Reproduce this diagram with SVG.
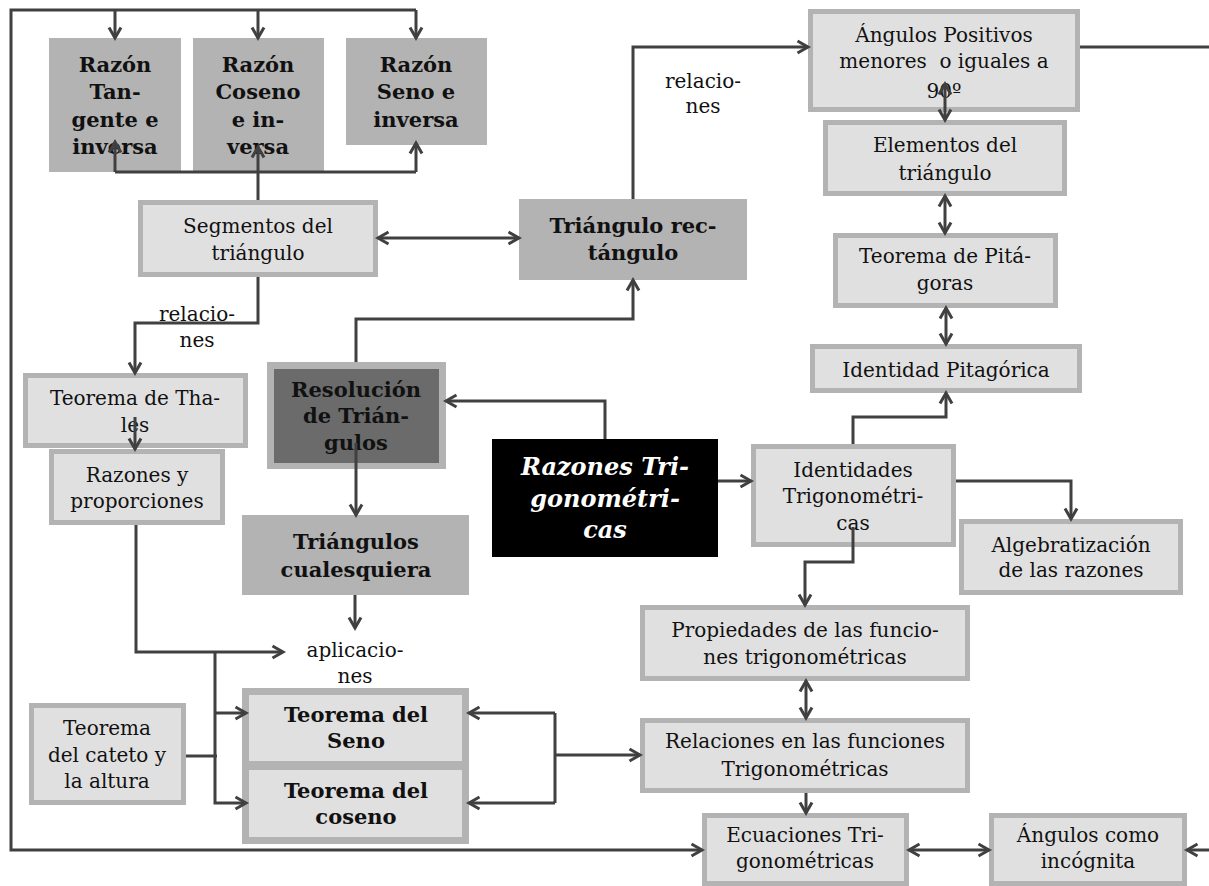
<svg xmlns="http://www.w3.org/2000/svg" width="1209" height="886" viewBox="0 0 1209 886">
<defs>
<marker id="ah" viewBox="0 0 14 16" refX="12.5" refY="8" markerWidth="14" markerHeight="16" markerUnits="userSpaceOnUse" orient="auto-start-reverse" overflow="visible">
<path d="M2,2 L12.5,8 L2,14" fill="none" stroke="#404040" stroke-width="3"/>
</marker>
</defs>
<style>
.ln{fill:none;stroke:#404040;stroke-width:3}
.a{marker-end:url(#ah)}
.bi{marker-start:url(#ah);marker-end:url(#ah)}
.box{fill:#e0e0e0;stroke:#b3b3b3;stroke-width:5}
.box7{fill:#e0e0e0;stroke:#b3b3b3;stroke-width:7}
.dk{fill:#b3b3b3}
text{font-family:"DejaVu Serif","Liberation Serif",serif;font-size:20px;fill:#111;text-anchor:middle}
.b{font-weight:bold;font-size:21px}
.w{fill:#fff;font-style:italic;font-weight:bold;font-size:24px}
</style>
<rect width="1209" height="886" fill="#fff"/>

<g id="razon-tangente">
<rect class="dk" x="49" y="38" width="132" height="134"/>
<text class="b" x="115" y="72">Razón</text>
<text class="b" x="115" y="99">Tan-</text>
<text class="b" x="115" y="127">gente e</text>
<text class="b" x="115" y="154">inversa</text>
</g>
<g id="razon-coseno">
<rect class="dk" x="193" y="38" width="131" height="134"/>
<text class="b" x="258" y="72">Razón</text>
<text class="b" x="258" y="99">Coseno</text>
<text class="b" x="258" y="127">e in-</text>
<text class="b" x="258" y="154">versa</text>
</g>
<g id="razon-seno">
<rect class="dk" x="346" y="38" width="141" height="107"/>
<text class="b" x="416" y="72">Razón</text>
<text class="b" x="416" y="99">Seno e</text>
<text class="b" x="416" y="127">inversa</text>
</g>
<g id="segmentos">
<rect class="box" x="140.5" y="202.5" width="235" height="72"/>
<text x="258" y="233">Segmentos del</text>
<text x="258" y="260">triángulo</text>
</g>
<g id="triangulo-rectangulo">
<rect class="dk" x="519" y="199" width="228" height="81"/>
<text class="b" x="633" y="233">Triángulo rec-</text>
<text class="b" x="633" y="260">tángulo</text>
</g>
<g id="label-relaciones-1">
<text x="703" y="88">relacio-</text>
<text x="703" y="113">nes</text>
</g>
<g id="angulos-positivos">
<rect class="box" x="810.5" y="11.5" width="267" height="98"/>
<text x="944" y="42">Ángulos Positivos</text>
<text x="944" y="68" xml:space="preserve">menores  o iguales a</text>
<text x="944" y="98">90º</text>
</g>
<g id="elementos">
<rect class="box" x="825.5" y="122.5" width="239" height="71"/>
<text x="945" y="152">Elementos del</text>
<text x="945" y="180">triángulo</text>
</g>
<g id="pitagoras">
<rect class="box" x="835.5" y="235.5" width="220" height="70"/>
<text x="945" y="263">Teorema de Pitá-</text>
<text x="945" y="290">goras</text>
</g>
<g id="identidad-pitagorica">
<rect class="box" x="812.5" y="346.5" width="267" height="44"/>
<text x="946" y="377">Identidad Pitagórica</text>
</g>
<g id="identidades">
<rect class="box" x="753.5" y="446.5" width="200" height="98"/>
<text x="853" y="477">Identidades</text>
<text x="853" y="503">Trigonométri-</text>
<text x="853" y="530">cas</text>
</g>
<g id="algebratizacion">
<rect class="box" x="961.5" y="521.5" width="219" height="71"/>
<text x="1071" y="552">Algebratización</text>
<text x="1071" y="577">de las razones</text>
</g>
<g id="razones-trigonometricas">
<rect x="492" y="439" width="226" height="118" fill="#000"/>
<text class="w" x="605" y="475">Razones Tri-</text>
<text class="w" x="605" y="507">gonométri-</text>
<text class="w" x="605" y="538">cas</text>
</g>
<g id="resolucion">
<rect x="267" y="362" width="179" height="107" fill="#b3b3b3"/>
<rect x="274" y="369" width="165" height="94" fill="#6b6b6b"/>
<text class="b" x="356" y="397">Resolución</text>
<text class="b" x="356" y="423">de Trián-</text>
<text class="b" x="356" y="450">gulos</text>
</g>
<g id="thales">
<rect class="box" x="25.5" y="375.5" width="220" height="70"/>
<text x="135" y="405">Teorema de Tha-</text>
<text x="135" y="432">les</text>
</g>
<g id="proporciones">
<rect class="box" x="51.5" y="451.5" width="171" height="71"/>
<text x="137" y="482">Razones y</text>
<text x="137" y="508">proporciones</text>
</g>
<g id="triangulos-cualesquiera">
<rect class="dk" x="242" y="515" width="227" height="80"/>
<text class="b" x="356" y="549">Triángulos</text>
<text class="b" x="356" y="577">cualesquiera</text>
</g>
<g id="label-relaciones-2">
<text x="197" y="321">relacio-</text>
<text x="197" y="347">nes</text>
</g>
<g id="label-aplicaciones">
<text x="355" y="657">aplicacio-</text>
<text x="355" y="683">nes</text>
</g>
<g id="cateto">
<rect class="box" x="31.5" y="705.5" width="152" height="97"/>
<text x="107" y="735">Teorema</text>
<text x="107" y="762">del cateto y</text>
<text x="107" y="788">la altura</text>
</g>
<g id="teorema-seno">
<rect class="box7" x="245.5" y="691.5" width="220" height="73"/>
<text class="b" x="356" y="722">Teorema del</text>
<text class="b" x="356" y="748">Seno</text>
</g>
<g id="teorema-coseno">
<rect class="box7" x="245.5" y="766.5" width="220" height="74"/>
<text class="b" x="356" y="798">Teorema del</text>
<text class="b" x="356" y="824">coseno</text>
</g>
<g id="propiedades">
<rect class="box" x="642.5" y="607.5" width="325" height="71"/>
<text x="805" y="637">Propiedades de las funcio-</text>
<text x="805" y="664">nes trigonométricas</text>
</g>
<g id="relaciones-funciones">
<rect class="box" x="642.5" y="720.5" width="325" height="70"/>
<text x="805" y="748">Relaciones en las funciones</text>
<text x="805" y="776">Trigonométricas</text>
</g>
<g id="ecuaciones">
<rect class="box" x="704.5" y="815.5" width="202" height="68"/>
<text x="805" y="842">Ecuaciones Tri-</text>
<text x="805" y="868">gonométricas</text>
</g>
<g id="angulos-incognita">
<rect class="box" x="991.5" y="815.5" width="193" height="68"/>
<text x="1088" y="842">Ángulos como</text>
<text x="1088" y="868">incógnita</text>
</g>

<g id="connectors">
<path class="ln a" d="M416,10 L11,10 L11,850 L702,850"/>
<path class="ln a" d="M115,10 L115,38"/>
<path class="ln a" d="M258,10 L258,38"/>
<path class="ln a" d="M416,10 L416,38"/>
<path class="ln a" d="M258,200 L258,147"/>
<path class="ln" d="M115,172 L416,172"/>
<path class="ln a" d="M115,172 L115,142"/>
<path class="ln a" d="M416,172 L416,143"/>
<path class="ln bi" d="M378,238 L519,238"/>
<path class="ln a" d="M633,199 L633,47 L808,47"/>
<path class="ln" d="M1080,47 L1209,47"/>
<path class="ln bi" d="M945,84 L945,120"/>
<path class="ln bi" d="M945,196 L945,233"/>
<path class="ln bi" d="M946,308 L946,344"/>
<path class="ln a" d="M853,444 L853,417 L946,417 L946,393"/>
<path class="ln a" d="M718,481 L751,481"/>
<path class="ln a" d="M956,481 L1071,481 L1071,519"/>
<path class="ln a" d="M853,527 L853,562 L805,562 L805,605"/>
<path class="ln bi" d="M806,681 L806,718"/>
<path class="ln a" d="M806,793 L806,813"/>
<path class="ln bi" d="M909,850 L989,850"/>
<path class="ln a" d="M1209,850 L1187,850"/>
<path class="ln a" d="M605,439 L605,401 L446,401"/>
<path class="ln a" d="M356,362 L356,319 L633,319 L633,280"/>
<path class="ln a" d="M356,443 L356,515"/>
<path class="ln a" d="M258,277 L258,323 L135,323 L135,373"/>
<path class="ln a" d="M135,417 L135,449"/>
<path class="ln a" d="M136,525 L136,652 L283,652"/>
<path class="ln a" d="M355,595 L355,628"/>
<path class="ln a" d="M215,652 L215,803 L246,803"/>
<path class="ln a" d="M215,713 L246,713"/>
<path class="ln" d="M186,756 L217,756"/>
<path class="ln" d="M555,713 L555,803"/>
<path class="ln a" d="M555,713 L469,713"/>
<path class="ln a" d="M555,803 L469,803"/>
<path class="ln a" d="M555,755 L640,755"/>
</g>
</svg>
